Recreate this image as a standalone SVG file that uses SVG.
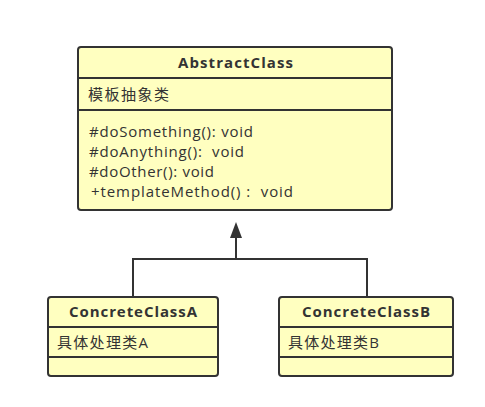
<svg xmlns="http://www.w3.org/2000/svg" width="485" height="407" viewBox="0 0 485 407">
<style>
.box{fill:#ffffc0;stroke:#333;stroke-width:2}
.div{stroke:#333;stroke-width:2}
.t{font-family:"Open Sans","Noto Sans CJK SC",sans-serif;font-size:15px;fill:#333;white-space:pre}
.b{font-weight:bold;text-anchor:middle}
.c{fill:none;stroke:#333;stroke-width:2}
</style>
<rect width="485" height="407" fill="#fff"/>
<g id="connectors">
<path class="c" d="M133 297 V259 H367 V297"/>
<path class="c" d="M236 259 V236"/>
<polygon points="236,222 242,238 230,238" fill="#333"/>
</g>
<g id="AbstractClass">
<rect class="box" x="78" y="47" width="314" height="163" rx="3"/>
<line class="div" x1="78" y1="78" x2="392" y2="78"/>
<line class="div" x1="78" y1="110" x2="392" y2="110"/>
<text class="t b" x="235.5" y="68" textLength="115" lengthAdjust="spacing">AbstractClass</text>
<text class="t" x="88" y="100" textLength="81" lengthAdjust="spacing">模板抽象类</text>
<text class="t" x="89" y="137" textLength="164" lengthAdjust="spacing">#doSomething(): void</text>
<text class="t" x="89" y="157" textLength="155" lengthAdjust="spacing">#doAnything():  void</text>
<text class="t" x="89" y="177" textLength="125" lengthAdjust="spacing">#doOther(): void</text>
<text class="t" x="91" y="197" textLength="202" lengthAdjust="spacing">+templateMethod() :  void</text>
</g>
<g id="ConcreteClassA">
<rect class="box" x="48" y="297" width="170" height="79" rx="3"/>
<line class="div" x1="48" y1="327" x2="218" y2="327"/>
<line class="div" x1="48" y1="357" x2="218" y2="357"/>
<text class="t b" x="133" y="317" textLength="128" lengthAdjust="spacing">ConcreteClassA</text>
<text class="t" x="57" y="348" textLength="91" lengthAdjust="spacing">具体处理类A</text>
</g>
<g id="ConcreteClassB">
<rect class="box" x="279" y="297" width="174" height="79" rx="3"/>
<line class="div" x1="279" y1="327" x2="453" y2="327"/>
<line class="div" x1="279" y1="357" x2="453" y2="357"/>
<text class="t b" x="366" y="317" textLength="128" lengthAdjust="spacing">ConcreteClassB</text>
<text class="t" x="288" y="348" textLength="91" lengthAdjust="spacing">具体处理类B</text>
</g>
</svg>
